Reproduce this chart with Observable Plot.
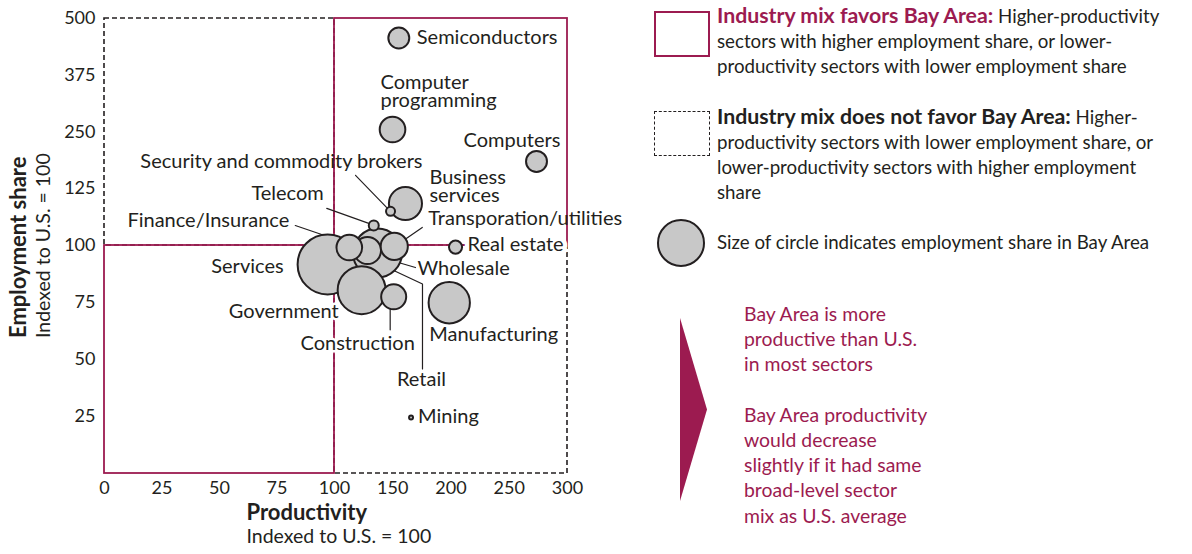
<!DOCTYPE html>
<html><head><meta charset="utf-8">
<script src="https://cdn.jsdelivr.net/npm/d3@7"></script>
<script src="https://cdn.jsdelivr.net/npm/@observablehq/plot@0.6"></script>
<style>
body{margin:0;background:#fff;font-family:Lato,"Open Sans",sans-serif;color:#231f20;}
#wrap{position:relative;width:1192px;height:554px;overflow:hidden;}
#chart{position:absolute;left:0;top:0;}
.lg{position:absolute;font-size:18.7px;line-height:25px;white-space:nowrap;}
.lg b{font-size:21.3px;}
.box{position:absolute;box-sizing:border-box;}
.mag{color:#9c1b50;}
</style></head><body>
<div id="wrap">
<div id="chart"></div>
<div class="box" style="left:654px;top:11px;width:56px;height:46px;border:2px solid #9c1b50;"></div>
<div class="lg" style="left:717px;top:3px;"><b class="mag">Industry mix favors Bay Area:</b> Higher-productivity<br>sectors with higher employment share, or lower-<br>productivity sectors with lower employment share</div>
<div class="box" style="left:654px;top:111px;width:56px;height:45px;border:1.6px dashed #231f20;"></div>
<div class="lg" style="left:717px;top:104px;"><b>Industry mix does not favor Bay Area:</b> Higher-<br>productivity sectors with lower employment share, or<br>lower-productivity sectors with higher employment<br>share</div>
<div class="box" style="left:657px;top:219px;width:48px;height:48px;border:2px solid #231f20;border-radius:50%;background:#c8c8c8;"></div>
<div class="lg" style="left:717px;top:230px;">Size of circle indicates employment share in Bay Area</div>
<div class="box" style="left:680px;top:318px;width:27px;height:183px;background:#9c1b50;clip-path:polygon(0 0,100% 50%,0 100%);"></div>
<div class="lg mag" style="left:744px;top:301px;line-height:25.2px;font-size:19.4px;">Bay Area is more<br>productive than U.S.<br>in most sectors<br>&nbsp;<br>Bay Area productivity<br>would decrease<br>slightly if it had same<br>broad-level sector<br>mix as U.S. average</div>
</div>
<script>
// Data (drawing order: back to front)
const sectors = ["Retail","Services","Wholesale","Construction","Government","Finance/Insurance","Transporation/utilities","Telecom","Business services","Security and commodity brokers","Real estate","Manufacturing","Computer programming","Computers","Semiconductors","Mining"];
const productivity = [136.9, 97.0, 128.3, 150.8, 123.3, 112.7, 151.3, 133.7, 160.9, 148.1, 203.9, 198.5, 149.8, 273.4, 155.2, 165.7];
const employmentShare = [96.7, 91.7, 97.8, 77.5, 80.4, 99.1, 99.6, 108.8, 118.4, 115.0, 99.3, 74.9, 255.1, 184.6, 457, 24.6];
const bayAreaShare = [15.3, 23.0, 4.7, 4.0, 14.7, 4.2, 4.7, 0.64, 7.0, 0.52, 1.1, 10.9, 4.2, 2.8, 2.8, 0.1];
const xTicks = [0, 25, 50, 75, 100, 150, 200, 250, 300];
const yTicks = [25, 50, 75, 100, 125, 250, 375, 500];
const xDomain = [0, 100, 300];
const yDomain = [0, 125, 500];
const baseline = 100;

const MAG = "#9c1b50", INK = "#231f20";
const data = sectors.map((name, i) => ({name, x: productivity[i], y: employmentShare[i], share: bayAreaShare[i]}));

// label placement (pixel offsets from circle centre)
const labels = {
  "Semiconductors": {dx: 18, dy: 0, a: "start"},
  "Computer programming": {dx: -12, dy: -37, a: "start", t: "Computer\nprogramming"},
  "Computers": {dx: -73, dy: -20, a: "start"},
  "Business services": {dx: 24, dy: -16, a: "start", t: "Business\nservices"},
  "Security and commodity brokers": {dx: 32, dy: -49, a: "end"},
  "Telecom": {dx: -50, dy: -31, a: "end"},
  "Transporation/utilities": {dx: 34, dy: -27, a: "start"},
  "Finance/Insurance": {dx: -60, dy: -26, a: "end"},
  "Real estate": {dx: 12, dy: -2, a: "start", halo: 9},
  "Services": {dx: -44, dy: 3, a: "end"},
  "Wholesale": {dx: 50, dy: 19, a: "start"},
  "Government": {dx: -23, dy: 22, a: "end", halo: 5},
  "Construction": {dx: -36, dy: 47, a: "middle", halo: 5},
  "Manufacturing": {dx: -20, dy: 33, a: "start"},
  "Retail": {dx: 44, dy: 127, a: "middle"},
  "Mining": {dx: 7, dy: 0, a: "start"}
};
const leaders = {
  "Security and commodity brokers": [[-35, -36], [-4, -4]],
  "Telecom": [[-47, -17], [-5, -2]],
  "Transporation/utilities": [[28, -19], [-1, 1]],
  "Finance/Insurance": [[-54, -22], [-10, -7]],
  "Wholesale": [[0, 3], [48, 17]],
  "Retail": [[13, 16], [45, 31], [45, 116]],
  "Construction": [[-3.5, 6], [-3.5, 33]]
};

const xOpts = {type: "linear", domain: xDomain, range: [104, 334, 567]};
const yOpts = {type: "linear", domain: yDomain, range: [473, 188, 18]};
const xs = Plot.scale({x: xOpts}), ys = Plot.scale({y: yOpts});
const leaderPts = [];
for (const [name, pts] of Object.entries(leaders)) {
  const d = data.find(e => e.name === name);
  const px = xs.apply(d.x), py = ys.apply(d.y);
  pts.forEach(([dx, dy]) => leaderPts.push({name, x: xs.invert(px + dx), y: ys.invert(py + dy)}));
}

const quadrants = [
  {x1: xDomain[0], x2: baseline, y1: baseline, y2: yDomain[2], favors: false},
  {x1: baseline, x2: xDomain[2], y1: yDomain[0], y2: baseline, favors: false},
  {x1: baseline, x2: xDomain[2], y1: baseline, y2: yDomain[2], favors: true},
  {x1: xDomain[0], x2: baseline, y1: yDomain[0], y2: baseline, favors: true}
];

const textMarks = data.map(d => {
  const l = labels[d.name];
  return Plot.text([d], {x: "x", y: "y", text: () => l.t || d.name, dx: l.dx, dy: l.dy, textAnchor: l.a,
    lineHeight: 0.9, fill: INK, fontSize: 20, ...(l.halo ? {stroke: "white", strokeWidth: l.halo} : {})});
});

const chart = Plot.plot({
  width: 630, height: 554,
  marginLeft: 104, marginRight: 63, marginTop: 18, marginBottom: 81,
  style: {fontFamily: "Lato, 'Open Sans', sans-serif", fontSize: "18px", color: INK, background: "white"},
  x: xOpts, y: yOpts,
  r: {type: "sqrt", domain: [0, 23], range: [0, 30]},
  marks: [
    Plot.rect(quadrants.filter(d => !d.favors), {x1: "x1", x2: "x2", y1: "y1", y2: "y2", fill: "none", stroke: INK, strokeWidth: 1.6, strokeDasharray: "5,3"}),
    Plot.rect(quadrants.filter(d => d.favors), {x1: "x1", x2: "x2", y1: "y1", y2: "y2", fill: "none", stroke: MAG, strokeWidth: 1.8}),
    Plot.axisX({ticks: xTicks, tickSize: 0, tickPadding: 8, label: null, fontSize: 18, fill: INK}),
    Plot.axisY({ticks: yTicks, tickSize: 0, tickPadding: 9, label: null, fontSize: 18, fill: INK}),
    Plot.line(leaderPts, {x: "x", y: "y", z: "name", stroke: INK, strokeWidth: 1.2}),
    ...textMarks,
    Plot.dot(data, {x: "x", y: "y", r: "share", fill: "#c8c8c8", stroke: INK, strokeWidth: 2}),
    Plot.text(["Productivity"], {frameAnchor: "bottom-left", dx: 142, dy: 46, textAnchor: "start", fontWeight: "bold", fontSize: 22, fill: INK}),
    Plot.text(["Indexed to U.S. = 100"], {frameAnchor: "bottom-left", dx: 142, dy: 69, textAnchor: "start", fontSize: 19.5, fill: INK}),
    Plot.text(["Employment share"], {frameAnchor: "left", dx: -86, dy: 92, rotate: -90, textAnchor: "start", fontWeight: "bold", fontSize: 22, fill: INK}),
    Plot.text(["Indexed to U.S. = 100"], {frameAnchor: "left", dx: -61, dy: 92, rotate: -90, textAnchor: "start", fontSize: 19.5, fill: INK})
  ]
});
document.getElementById("chart").append(chart);
</script>
</body></html>
